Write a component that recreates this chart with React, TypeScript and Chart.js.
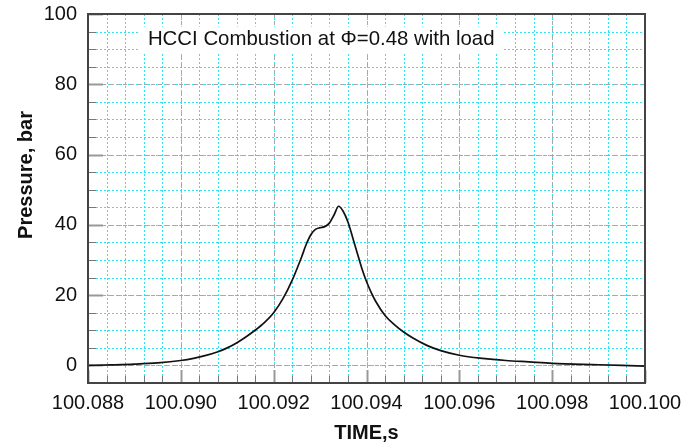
import React, { useEffect, useRef } from "react";
import { Chart, registerables } from "chart.js";

Chart.register(...registerables);

const timeS = [
  100.088, 100.0885, 100.089, 100.0895, 100.09, 100.0903, 100.0905, 100.0908,
  100.091, 100.0912, 100.0914, 100.0916, 100.0918, 100.092, 100.0922, 100.0924,
  100.0926, 100.0927, 100.0928, 100.0929, 100.093, 100.0931, 100.0932, 100.0933,
  100.0934, 100.0935, 100.0936, 100.0937, 100.0938, 100.0939, 100.094, 100.0941,
  100.0942, 100.0944, 100.0946, 100.0948, 100.095, 100.0953, 100.0956, 100.096,
  100.0965, 100.097, 100.0975, 100.098, 100.099, 100.1,
];
const pressureBar = [
  0.0, 0.15, 0.35, 0.7, 1.4, 2.1, 2.7, 3.9,
  5.0, 6.4, 8.1, 10.0, 12.2, 15.0, 19.0, 24.3,
  30.8, 34.4, 37.2, 38.7, 39.2, 39.5, 40.5, 42.8,
  45.3, 43.8, 40.8, 36.5, 32.0, 27.6, 23.9, 20.8,
  18.2, 14.2, 11.6, 9.5, 7.8, 5.7, 4.2, 2.9,
  2.0, 1.4, 1.0, 0.6, 0.2, -0.2,
];

const xMin = 100.088;
const xMax = 100.1;
const xMajorStep = 0.002;
const xMinorStep = 0.0004;
const yMin = -5;
const yMax = 100;
const yMajorStep = 20;
const yMinorStep = 5;

const titleText = "HCCI Combustion at \u03A6=0.48 with load";
const titleAt = { x: 100.08929, y: 93 };
const yTitleText = "Pressure, bar";
const xTitleText = "TIME,s";

const FONT = "'Liberation Sans', Arial, sans-serif";

const decorPlugin = {
  id: "decor",
  beforeDatasetsDraw(chart: any) {
    const { ctx, chartArea } = chart;
    const x = chart.scales.x;
    const y = chart.scales.y;
    const x2 = chart.scales.x2;
    const y2 = chart.scales.y2;
    const L = chartArea.left, R = chartArea.right, T = chartArea.top, B = chartArea.bottom;
    ctx.save();
    // minor grid (cyan dotted)
    ctx.strokeStyle = "#2fe3f0";
    ctx.lineWidth = 1;
    ctx.setLineDash([2, 2]);
    x2.ticks.forEach((t: any) => {
      const px = Math.round(x.getPixelForValue(t.value)) + 0.5;
      ctx.beginPath();
      ctx.moveTo(px, T);
      ctx.lineTo(px, B);
      ctx.stroke();
    });
    y2.ticks.forEach((t: any) => {
      const py = Math.round(y.getPixelForValue(t.value)) + 0.5;
      ctx.beginPath();
      ctx.moveTo(L, py);
      ctx.lineTo(R, py);
      ctx.stroke();
    });
    // major grid (grey dashed)
    ctx.strokeStyle = "#a8a8a8";
    ctx.setLineDash([4, 3]);
    x.ticks.forEach((t: any) => {
      const px = Math.round(x.getPixelForValue(t.value)) + 0.5;
      ctx.beginPath();
      ctx.moveTo(px, T);
      ctx.lineTo(px, B);
      ctx.stroke();
    });
    y.ticks.forEach((t: any) => {
      const py = Math.round(y.getPixelForValue(t.value)) + 0.5;
      ctx.beginPath();
      ctx.moveTo(L, py);
      ctx.lineTo(R, py);
      ctx.stroke();
    });
    // inward tick marks
    ctx.setLineDash([]);
    ctx.strokeStyle = "#777";
    ctx.lineWidth = 1;
    x2.ticks.forEach((t: any) => {
      const px = Math.round(x.getPixelForValue(t.value)) + 0.5;
      ctx.beginPath();
      ctx.moveTo(px, B);
      ctx.lineTo(px, B - 7);
      ctx.stroke();
    });
    y2.ticks.forEach((t: any) => {
      const py = Math.round(y.getPixelForValue(t.value)) + 0.5;
      ctx.beginPath();
      ctx.moveTo(L, py);
      ctx.lineTo(L + 8, py);
      ctx.stroke();
    });
    ctx.strokeStyle = "#999";
    ctx.lineWidth = 2;
    x.ticks.forEach((t: any) => {
      const px = Math.round(x.getPixelForValue(t.value)) + 0.5;
      ctx.beginPath();
      ctx.moveTo(px, B);
      ctx.lineTo(px, B - 13);
      ctx.stroke();
    });
    y.ticks.forEach((t: any) => {
      const py = Math.round(y.getPixelForValue(t.value)) + 0.5;
      ctx.beginPath();
      ctx.moveTo(L, py);
      ctx.lineTo(L + 15, py);
      ctx.stroke();
    });
    // title box inside plot
    ctx.font = `20.4px ${FONT}`;
    const w = ctx.measureText(titleText).width;
    const cx = x.getPixelForValue(titleAt.x);
    const cy = y.getPixelForValue(titleAt.y);
    ctx.fillStyle = "#fff";
    ctx.fillRect(cx - 8, cy - 12, w + 16, 27);
    ctx.fillStyle = "#111";
    ctx.textAlign = "left";
    ctx.textBaseline = "middle";
    ctx.fillText(titleText, cx, cy + 1);
    ctx.restore();
  },
  afterDatasetsDraw(chart: any) {
    const { ctx, chartArea } = chart;
    ctx.save();
    ctx.strokeStyle = "#444";
    ctx.lineWidth = 2;
    ctx.setLineDash([]);
    ctx.strokeRect(chartArea.left, chartArea.top, chartArea.right - chartArea.left, chartArea.bottom - chartArea.top);
    // y axis title
    ctx.translate(26, chartArea.top + 161);
    ctx.rotate(-Math.PI / 2);
    ctx.font = `bold 20px ${FONT}`;
    ctx.fillStyle = "#111";
    ctx.textAlign = "center";
    ctx.textBaseline = "middle";
    ctx.fillText(yTitleText, 0, 0);
    ctx.restore();
  },
};

export default function App() {
  const ref = useRef<HTMLCanvasElement | null>(null);
  useEffect(() => {
    if (!ref.current) return;
    const chart = new Chart(ref.current, {
      type: "line",
      data: {
        datasets: [
          {
            data: timeS.map((t, i) => ({ x: t, y: pressureBar[i] })),
            borderColor: "#111",
            borderWidth: 1.7,
            pointRadius: 0,
            fill: false,
            cubicInterpolationMode: "monotone",
          },
        ],
      },
      options: {
        animation: false,
        responsive: true,
        maintainAspectRatio: false,
        layout: { padding: { top: 14, right: 36, left: 0, bottom: 0 } },
        plugins: { legend: { display: false }, tooltip: { enabled: false }, title: { display: false } },
        scales: {
          x2: {
            type: "linear",
            position: "bottom",
            min: xMin,
            max: xMax,
            ticks: { display: false, stepSize: xMinorStep },
            grid: { display: false, drawTicks: false },
            border: { display: false },
            afterFit: (s: any) => { s.height = 0; s.paddingLeft = 0; s.paddingRight = 0; },
          },
          y2: {
            type: "linear",
            position: "left",
            min: yMin,
            max: yMax,
            ticks: { display: false, stepSize: yMinorStep },
            grid: { display: false, drawTicks: false },
            border: { display: false },
            afterFit: (s: any) => { s.width = 0; s.paddingTop = 0; s.paddingBottom = 0; },
          },
          x: {
            type: "linear",
            position: "bottom",
            min: xMin,
            max: xMax,
            ticks: {
              stepSize: xMajorStep,
              autoSkip: false,
              maxRotation: 0,
              padding: 8,
              color: "#111",
              font: { family: FONT, size: 20 },
              callback: (v: any) => Number(v).toFixed(3),
            },
            grid: { display: false, drawTicks: false },
            border: { display: false },
            title: {
              display: true,
              text: xTitleText,
              color: "#111",
              font: { family: FONT, size: 20, weight: "bold" },
              padding: { top: 0, bottom: 1 },
            },
            afterFit: (s: any) => { s.height = 63; s.paddingLeft = 0; s.paddingRight = 0; },
          },
          y: {
            type: "linear",
            position: "left",
            min: yMin,
            max: yMax,
            ticks: {
              stepSize: yMajorStep,
              includeBounds: false,
              padding: 11,
              color: "#111",
              font: { family: FONT, size: 20 },
            },
            grid: { display: false, drawTicks: false },
            border: { display: false },
            afterFit: (s: any) => { s.width = 88; s.paddingTop = 0; s.paddingBottom = 0; },
          },
        },
      },
      plugins: [decorPlugin],
    } as any);
    return () => chart.destroy();
  }, []);
  return (
    <div style={{ position: "absolute", left: 0, top: 0, width: 681, height: 446 }}>
      <canvas ref={ref} />
    </div>
  );
}
